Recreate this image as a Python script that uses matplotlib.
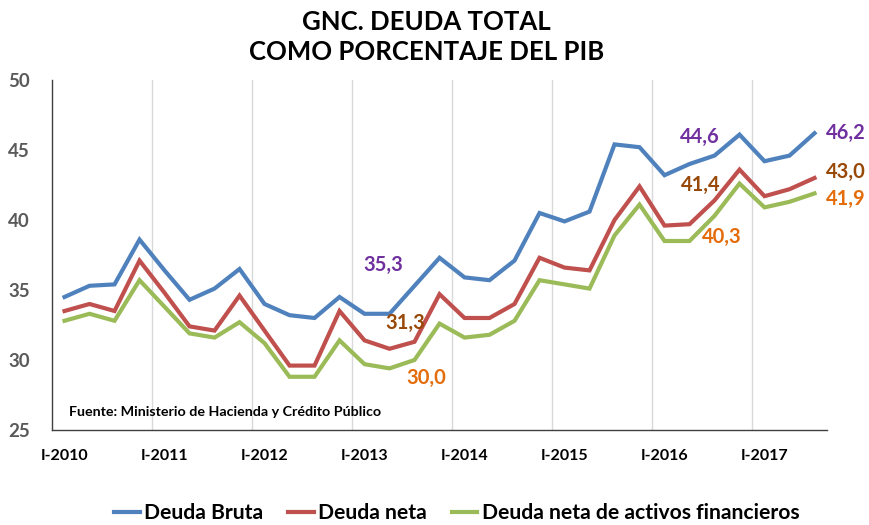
import numpy as np
import matplotlib
matplotlib.use('Agg')
import matplotlib.pyplot as plt

plt.rcParams['font.family'] = ['Lato', 'DejaVu Sans']

# Quarterly data, I-2010 .. III-2017
years = ['I-2010', 'I-2011', 'I-2012', 'I-2013', 'I-2014', 'I-2015', 'I-2016', 'I-2017']
deuda_bruta = [34.5, 35.3, 35.4, 38.6, 36.4, 34.3, 35.1, 36.5, 34.0, 33.2,
               33.0, 34.5, 33.3, 33.3, 35.3, 37.3, 35.9, 35.7, 37.1, 40.5,
               39.9, 40.6, 45.4, 45.2, 43.2, 44.0, 44.6, 46.1, 44.2, 44.6, 46.2]
deuda_neta = [33.5, 34.0, 33.5, 37.1, 34.8, 32.4, 32.1, 34.6, 32.1, 29.6,
              29.6, 33.5, 31.4, 30.8, 31.3, 34.7, 33.0, 33.0, 34.0, 37.3,
              36.6, 36.4, 40.0, 42.4, 39.6, 39.7, 41.4, 43.6, 41.7, 42.2, 43.0]
deuda_neta_af = [32.8, 33.3, 32.8, 35.7, 33.8, 31.9, 31.6, 32.7, 31.2, 28.8,
                 28.8, 31.4, 29.7, 29.4, 30.0, 32.6, 31.6, 31.8, 32.8, 35.7,
                 35.4, 35.1, 38.9, 41.1, 38.5, 38.5, 40.3, 42.6, 40.9, 41.3, 41.9]
label_idx = [14, 26, 30]

blue = '#4F81BD'
red = '#C0504D'
green = '#9BBB59'
purple = '#7030A0'
brown = '#984807'
orange = '#E46C0A'

x = np.arange(len(deuda_bruta))

fig = plt.figure(figsize=(8.7, 5.25), dpi=100)
ax = fig.add_axes([0.0598, 0.181, 0.8908, 0.6666])

ax.plot(x, deuda_bruta, color=blue, lw=3, label='Deuda Bruta', solid_joinstyle='miter')
ax.plot(x, deuda_neta, color=red, lw=3, label='Deuda neta', solid_joinstyle='miter')
ax.plot(x, deuda_neta_af, color=green, lw=3, label='Deuda neta de activos financieros',
        solid_joinstyle='miter')

ax.set_xlim(-0.5, len(x) - 0.5)
ax.set_ylim(25, 50)
ax.set_yticks([25, 30, 35, 40, 45, 50])
ax.set_xticks(np.arange(0, len(x), 4))
ax.set_xticklabels(years)
for g in np.arange(3.5, len(x) - 0.5, 4):
    ax.axvline(g, color='#D9D9D9', lw=1, zorder=0)

ax.tick_params(axis='both', length=0)
ax.tick_params(axis='y', labelsize=13.5, labelcolor='#595959', pad=16)
ax.tick_params(axis='x', labelsize=11.5, pad=14)
for t in ax.get_yticklabels() + ax.get_xticklabels():
    t.set_fontweight('bold')
for s in ['top', 'right']:
    ax.spines[s].set_visible(False)
for s in ['left', 'bottom']:
    ax.spines[s].set_color('#404040')
    ax.spines[s].set_linewidth(1)

def fmt(v):
    return f'{v:.1f}'.replace('.', ',')

# value labels
lab_kw = dict(fontsize=14.5, fontweight='bold')
i = label_idx[0]
ax.annotate(fmt(deuda_bruta[i]), (i, deuda_bruta[i]), xytext=(-8, 8), textcoords='offset points',
            ha='right', va='bottom', color=purple, **lab_kw)
ax.annotate(fmt(deuda_neta[i]), (i, deuda_neta[i]), xytext=(8, 6), textcoords='offset points',
            ha='right', va='bottom', color=brown, **lab_kw)
ax.annotate(fmt(deuda_neta_af[i]), (i, deuda_neta_af[i]), xytext=(-6, -6), textcoords='offset points',
            ha='left', va='top', color=orange, **lab_kw)
i = label_idx[1]
ax.annotate(fmt(deuda_bruta[i]), (i, deuda_bruta[i]), xytext=(4, 6), textcoords='offset points',
            ha='right', va='bottom', color=purple, **lab_kw)
ax.annotate(fmt(deuda_neta[i]), (i, deuda_neta[i]), xytext=(4, 4), textcoords='offset points',
            ha='right', va='bottom', color=brown, **lab_kw)
ax.annotate(fmt(deuda_neta_af[i]), (i, deuda_neta_af[i]), xytext=(-9, -8), textcoords='offset points',
            ha='left', va='top', color=orange, **lab_kw)
i = label_idx[2]
ax.annotate(fmt(deuda_bruta[i]), (i, deuda_bruta[i]), xytext=(8, 0), textcoords='offset points',
            ha='left', va='center', color=purple, **lab_kw)
ax.annotate(fmt(deuda_neta[i]), (i, deuda_neta[i]), xytext=(8, 4), textcoords='offset points',
            ha='left', va='center', color=brown, **lab_kw)
ax.annotate(fmt(deuda_neta_af[i]), (i, deuda_neta_af[i]), xytext=(8, -4), textcoords='offset points',
            ha='left', va='center', color=orange, **lab_kw)

ax.text(0.022, 0.05, 'Fuente: Ministerio de Hacienda y Crédito Público', transform=ax.transAxes,
        fontsize=10.3, fontweight='bold', ha='left', va='center')

fig.text(0.49, 0.98, 'GNC. DEUDA TOTAL\nCOMO PORCENTAJE DEL PIB', ha='center', va='top',
         fontsize=18.5, fontweight='bold', linespacing=1.3)

leg = fig.legend(loc='center', bbox_to_anchor=(0.525, 0.022), ncol=3, frameon=False,
                 handlelength=1.2, handletextpad=0.2, columnspacing=1.2,
                 prop={'size': 15.2, 'weight': 'bold'})

fig.savefig('out.png', dpi=100)
